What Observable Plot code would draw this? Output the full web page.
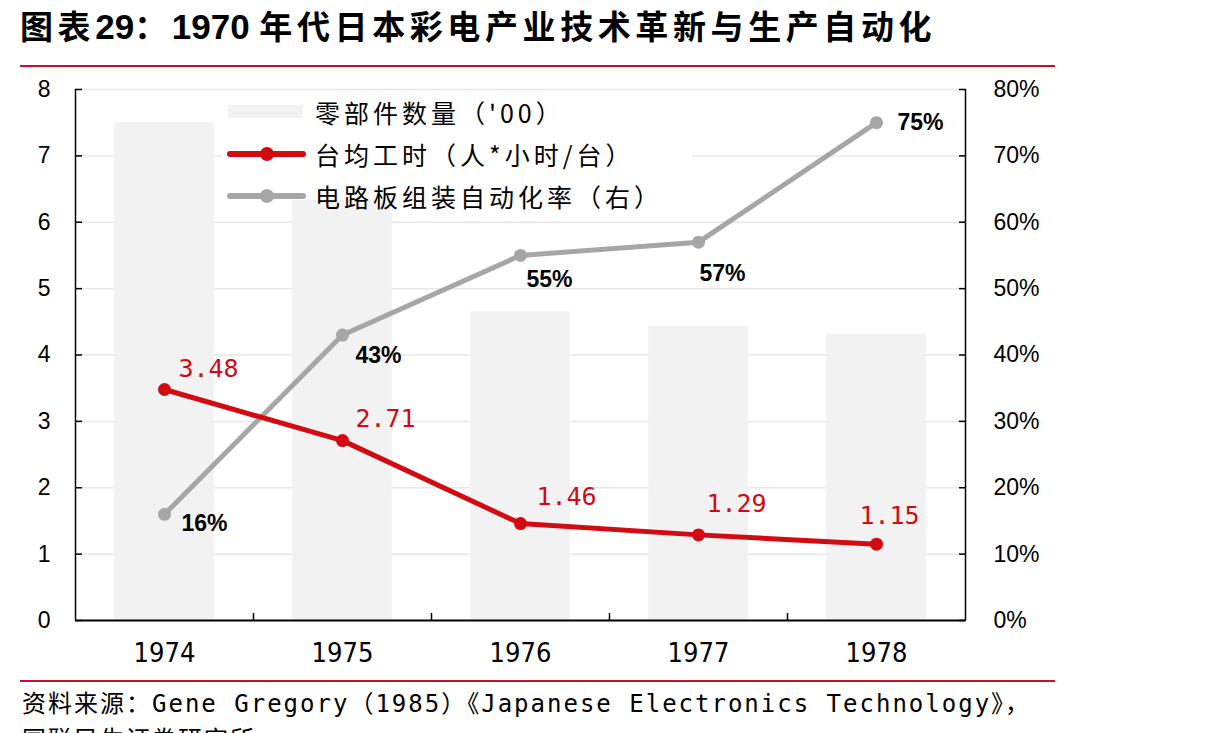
<!DOCTYPE html>
<html>
<head>
<meta charset="utf-8">
<script src="https://cdn.jsdelivr.net/npm/d3@7"></script>
<script src="https://cdn.jsdelivr.net/npm/@observablehq/plot@0.6"></script>
<style>
  html, body { margin: 0; padding: 0; background: #fff; }
  body { width: 1210px; height: 733px; position: relative; overflow: hidden; }
  .title {
    position: absolute; left: 20px; top: 1px;
    font-family: "Noto Sans CJK SC", sans-serif; font-weight: 700;
    font-size: 33px; letter-spacing: 4.6px; color: #000; white-space: nowrap;
  }
  .title .num { font-family: "Liberation Sans", Arial, sans-serif; font-size: 35px; letter-spacing: 0; }
  .rule { position: absolute; left: 20px; width: 1035px; height: 2px; background: #c8102e; }
  #chart { position: absolute; left: 0; top: 70px; }
  .legend {
    position: absolute; left: 222px; top: 92px; width: 470px; height: 108px;
    background: #fff; font-family: "Noto Sans CJK SC", sans-serif; font-size: 25px; color: #000;
  }
  .legend .item { position: absolute; left: 0; height: 40px; width: 470px; }
  .legend .label { position: absolute; left: 93px; top: 0; line-height: 40px; letter-spacing: 4px; white-space: nowrap; }
  .legend svg { position: absolute; left: 0; top: 0; }
  .source {
    position: absolute; left: 22px; top: 686px; white-space: nowrap;
    font-family: "DejaVu Sans Mono", "Noto Sans CJK SC", monospace; font-size: 24px; line-height: 36px; color: #000;
    letter-spacing: 2px;
  }
</style>
</head>
<body>
<div class="title">图表<span class="num">29</span>：<span class="num">1970 </span>年代日本彩电产业技术革新与生产自动化</div>
<div class="rule" style="top:65px"></div>
<div id="chart"></div>
<div class="legend" id="legend"></div>
<div class="rule" style="top:680px"></div>
<div class="source">资料来源：Gene Gregory（1985）《Japanese Electronics Technology》，<br>国联民生证券研究所</div>
<script>
// Japanese colour-TV production, 1974–1978
const years = [1974, 1975, 1976, 1977, 1978];
const partsHundreds = [7.5, 6.6, 4.65, 4.43, 4.31];   // 零部件数量（'00）
const hoursPerSet = [3.48, 2.71, 1.46, 1.29, 1.15];    // 台均工时（人*小时/台）
const autoRatePct = [16, 43, 55, 57, 75];              // 电路板组装自动化率（右）, %
const leftTicks = [0, 1, 2, 3, 4, 5, 6, 7, 8];
const rightTickLabels = ["0%", "10%", "20%", "30%", "40%", "50%", "60%", "70%", "80%"];
const legendLabels = ["零部件数量（'00）", "台均工时（人*小时/台）", "电路板组装自动化率（右）"];

const RED = "#d20a11";
const GRAY = "#a6a6a6";
const BAR = "#f2f2f2";

const rows = years.map((year, i) => ({
  year,
  parts: partsHundreds[i],
  hours: hoursPerSet[i],
  rate: autoRatePct[i],
  rateScaled: autoRatePct[i] / 10   // right axis 0–80% shares the left 0–8 range
}));

const sans = "Liberation Sans, Arial, sans-serif";
const mono = "DejaVu Sans Mono, monospace";

// per-year offsets of the value labels (pixels)
const rateLabelOffset = {1974: [40, 9], 1975: [36, 21], 1976: [29, 24], 1977: [24, 31], 1978: [44, 0]};
const hourLabelOffset = {1974: [44, -21], 1975: [43, -22], 1976: [46, -27], 1977: [38, -31], 1978: [13, -28]};

const chart = Plot.plot({
  width: 1060,
  height: 610,
  marginTop: 19,
  marginBottom: 60,
  marginLeft: 75,
  marginRight: 95,
  style: {background: "transparent", fontFamily: sans, color: "#000", overflow: "visible"},
  x: {type: "linear", domain: [1973.5, 1978.5], axis: null},
  y: {domain: [0, 8], axis: null},
  marks: [
    Plot.gridY(leftTicks.slice(1), {stroke: "#e8e8e8", strokeOpacity: 1, strokeWidth: 1.5}),
    Plot.rectY(rows, {x1: d => d.year - 0.28, x2: d => d.year + 0.28, y: "parts", fill: BAR}),
    // frame: left, right and bottom axis lines
    Plot.ruleX([1973.5, 1978.5], {stroke: "#000", strokeWidth: 1.5}),
    Plot.ruleY([0], {stroke: "#000", strokeWidth: 2}),
    // inward ticks
    Plot.axisY(leftTicks, {anchor: "left", label: null, tickSize: -7, tickFormat: () => "", strokeWidth: 1.5}),
    Plot.axisY(leftTicks, {anchor: "right", label: null, tickSize: -7, tickFormat: () => "", strokeWidth: 1.5}),
    Plot.axisX([1974.5, 1975.5, 1976.5, 1977.5], {anchor: "bottom", label: null, tickSize: -7, tickFormat: () => "", strokeWidth: 1.5}),
    // tick labels
    Plot.axisY(leftTicks, {anchor: "left", label: null, tickSize: 0, tickPadding: 25, fontSize: 23, fontFamily: sans, tickFormat: d => String(d)}),
    Plot.axisY(leftTicks, {anchor: "right", label: null, tickSize: 0, tickPadding: 28, fontSize: 23, fontFamily: sans, tickFormat: (d, i) => rightTickLabels[i]}),
    Plot.axisX(years, {anchor: "bottom", label: null, tickSize: 0, tickPadding: 22, fontSize: 27, fontFamily: "Liberation Sans Narrow, DejaVu Sans Condensed, Arial Narrow, sans-serif", tickFormat: d => String(d)}),
    // automation rate (right axis)
    Plot.line(rows, {x: "year", y: "rateScaled", stroke: GRAY, strokeWidth: 5}),
    Plot.dot(rows, {x: "year", y: "rateScaled", r: 6.5, fill: GRAY}),
    // labour hours per set
    Plot.line(rows, {x: "year", y: "hours", stroke: RED, strokeWidth: 5}),
    Plot.dot(rows, {x: "year", y: "hours", r: 6.5, fill: RED}),
    ...rows.map(d => Plot.text([d], {
      x: "year", y: "hours", text: r => r.hours.toFixed(2),
      dx: hourLabelOffset[d.year][0], dy: hourLabelOffset[d.year][1],
      fill: RED, fontSize: 25, fontFamily: mono
    })),
    ...rows.map(d => Plot.text([d], {
      x: "year", y: "rateScaled", text: r => r.rate + "%",
      dx: rateLabelOffset[d.year][0], dy: rateLabelOffset[d.year][1],
      fill: "#000", fontSize: 23, fontWeight: "bold", fontFamily: sans
    }))
  ]
});
document.getElementById("chart").appendChild(chart);

// legend
const legend = d3.select("#legend");
const swatches = [
  {type: "bar", color: BAR},
  {type: "line", color: RED},
  {type: "line", color: GRAY}
];
legendLabels.forEach((label, i) => {
  const item = legend.append("div").attr("class", "item").style("top", `${i * 42}px`);
  const svg = item.append("svg").attr("width", 90).attr("height", 40);
  const s = swatches[i];
  if (s.type === "bar") {
    svg.append("rect").attr("x", 6).attr("y", 13).attr("width", 75).attr("height", 13).attr("fill", s.color);
  } else {
    svg.append("line").attr("x1", 8).attr("x2", 81).attr("y1", 20).attr("y2", 20)
      .attr("stroke", s.color).attr("stroke-width", 6).attr("stroke-linecap", "round");
    svg.append("circle").attr("cx", 45).attr("cy", 20).attr("r", 7).attr("fill", s.color);
  }
  item.append("div").attr("class", "label").text(label);
});
</script>
</body>
</html>
